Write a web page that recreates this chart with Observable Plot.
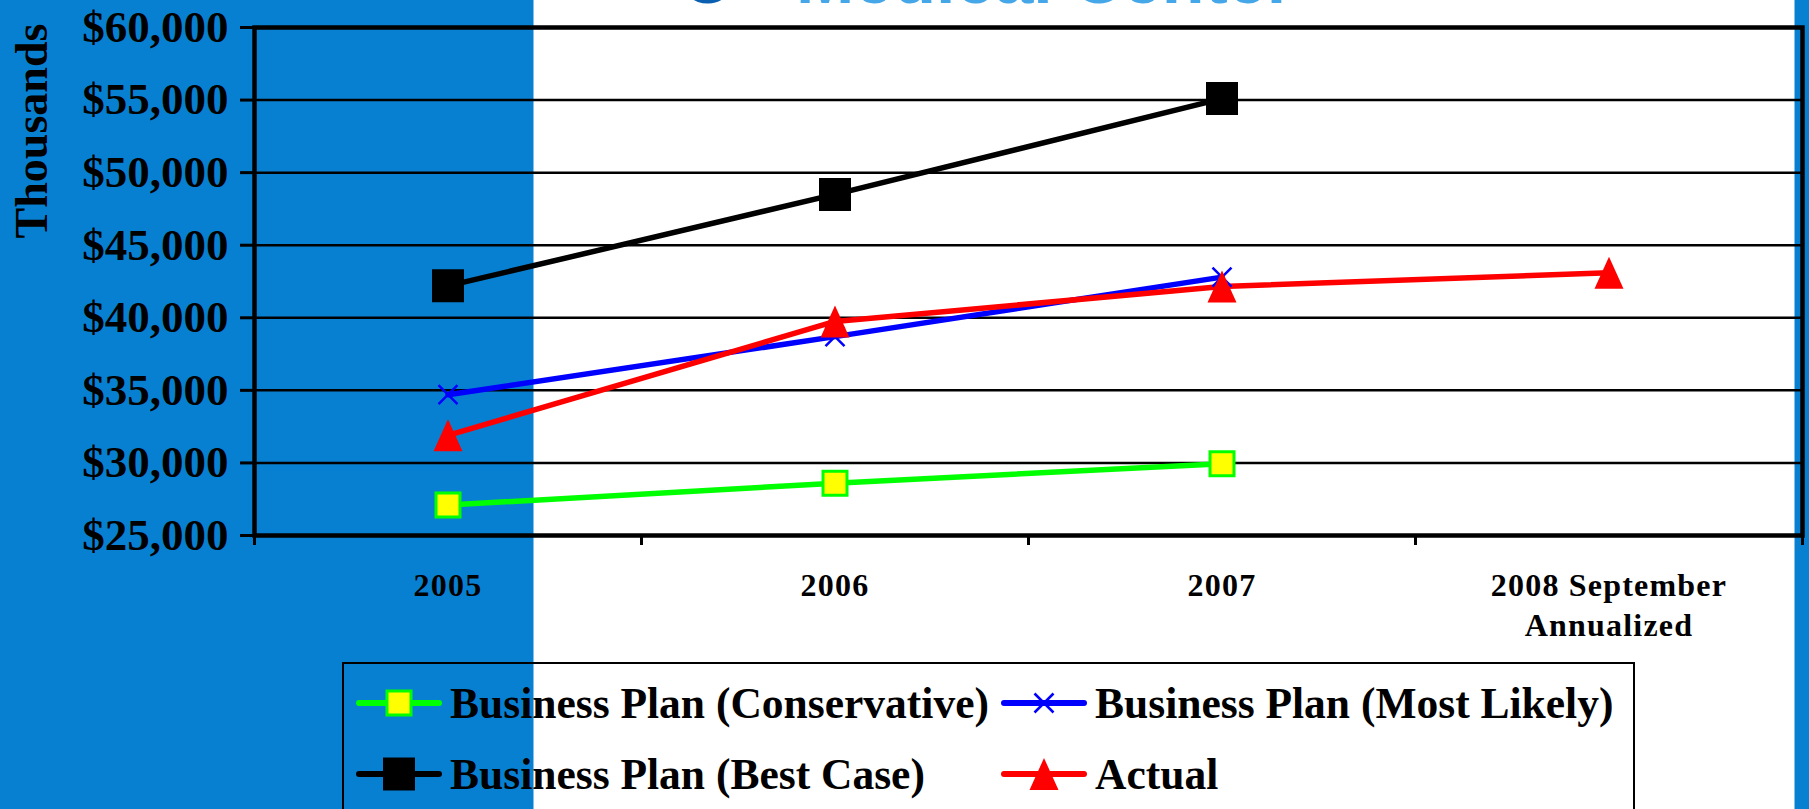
<!DOCTYPE html>
<html>
<head>
<meta charset="utf-8">
<script src="https://cdn.jsdelivr.net/npm/d3@7"></script>
<script src="https://cdn.jsdelivr.net/npm/@observablehq/plot@0.6"></script>
<style>
  html, body { margin: 0; padding: 0; }
  body {
    width: 1809px; height: 809px; overflow: hidden; position: relative;
    background: linear-gradient(to right, #0880d2 0px, #0880d2 533px, #ffffff 534px, #ffffff 1794px, #0880d2 1795px);
    font-family: "Liberation Serif", "Times New Roman", serif;
  }
  #chart { position: absolute; left: 0; top: 0; }
  #title1, #title2 { position: absolute; font-family: "Liberation Sans", Arial, sans-serif; font-weight: bold; font-size: 70px; line-height: 1; white-space: nowrap; }
  #title1 { left: 681px; top: -56px; color: #0a5fb0; }
  #title2 { left: 796px; top: -56px; color: #45a6e8; }
  #ylabel { position: absolute; left: 32px; top: 131px; transform: translate(-50%, -50%) rotate(-90deg); font-weight: bold; font-size: 46px; line-height: 1; white-space: nowrap; color: #000; }
  #legend { position: absolute; left: 342px; top: 662px; width: 1293px; height: 150px; border: 2.5px solid #000; box-sizing: border-box; }
  .item { position: absolute; height: 50px; display: flex; align-items: center; }
  .item span { font-weight: bold; font-size: 43.5px; color: #000; white-space: nowrap; margin-left: 8px; }
  .xcats text, .xcats tspan { letter-spacing: 1.2px; }
</style>
</head>
<body>
<div id="title1">C</div>
<div id="title2">Medical Center</div>
<div id="chart"></div>
<div id="ylabel">Thousands</div>
<div id="legend"></div>
<script>
// ---- data ----
const categories = ["2005", "2006", "2007", "2008 September\nAnnualized"];
const seriesNames = [
  "Business Plan (Conservative)",
  "Business Plan (Most Likely)",
  "Business Plan (Best Case)",
  "Actual"
];
const conservative = [27100, 28600, 29950, null];
const mostLikely   = [34700, 38700, 42800, null];
const bestCase     = [42200, 48500, 55100, null];
const actual       = [31900, 39750, 42150, 43100];
const yTicks = [25000, 30000, 35000, 40000, 45000, 50000, 55000, 60000];
const seriesColors = ["#00ff00", "#0000ff", "#000000", "#ff0000"];

// ---- marker symbols ----
const symSquareYellow = { draw(c) { c.rect(-12, -12, 24, 24); } };
const symSquareBlack  = { draw(c) { c.rect(-16, -16.5, 32, 33); } };
const symTimes = { draw(c) { c.moveTo(-9.5, -9.5); c.lineTo(9.5, 9.5); c.moveTo(9.5, -9.5); c.lineTo(-9.5, 9.5); } };
const symTriangle = { draw(c) { c.moveTo(0, -16); c.lineTo(14.5, 16); c.lineTo(-14.5, 16); c.closePath(); } };

const markerStyles = [
  { symbol: symSquareYellow, fill: "#ffff00", stroke: "#00ff00", strokeWidth: 3 },
  { symbol: symTimes, fill: "none", stroke: "#0000ff", strokeWidth: 2.5 },
  { symbol: symSquareBlack, fill: "#000000", stroke: "none", strokeWidth: 0 },
  { symbol: symTriangle, fill: "#ff0000", stroke: "none", strokeWidth: 0 }
];

const allValues = [conservative, mostLikely, bestCase, actual];
const rows = [];
allValues.forEach((vals, s) => {
  vals.forEach((v, i) => {
    if (v != null) rows.push({ series: seriesNames[s], s, idx: i + 0.5, value: v });
  });
});

const seriesMarks = [];
seriesNames.forEach((name, s) => {
  const d = rows.filter(r => r.s === s);
  seriesMarks.push(Plot.line(d, { x: "idx", y: "value", stroke: seriesColors[s], strokeWidth: 5.5 }));
});
seriesNames.forEach((name, s) => {
  const d = rows.filter(r => r.s === s);
  const m = markerStyles[s];
  seriesMarks.push(Plot.dot(d, { x: "idx", y: "value", symbol: m.symbol, fill: m.fill, stroke: m.stroke, strokeWidth: m.strokeWidth }));
});

const fmt = d3.format(",");
const xLabels = Plot.text(categories, { x: (d, i) => i + 0.5, text: d => d, frameAnchor: "bottom", dy: 32, lineAnchor: "top", lineHeight: 1.25, fontSize: 32, fontWeight: "bold", fill: "#000" });
const chart = Plot.plot({
  width: 1809,
  height: 650,
  marginLeft: 254,
  marginRight: 7,
  marginTop: 27,
  marginBottom: 115,
  style: { background: "transparent", fontFamily: "'Liberation Serif', 'Times New Roman', serif", color: "#000", overflow: "visible" },
  x: { type: "linear", domain: [0, categories.length] },
  y: { domain: [yTicks[0], yTicks[yTicks.length - 1]] },
  marks: [
    Plot.gridY(yTicks, { stroke: "#000", strokeOpacity: 1, strokeWidth: 2.5 }),
    Plot.axisY(yTicks, { tickSize: 14, tickPadding: 12, strokeWidth: 3, tickFormat: d => "$" + fmt(d), fontSize: 45, fontWeight: "bold", label: null }),
    Plot.axisX(d3.range(categories.length + 1), { tickSize: 10, strokeWidth: 3, tickFormat: () => "", label: null }),
    xLabels,
    Plot.frame({ stroke: "#000", strokeWidth: 4.5 }),
    ...seriesMarks
  ]
});
document.getElementById("chart").appendChild(chart);
// letter-spacing for category labels (text containing the category strings)
d3.select(chart).selectAll("text").filter(function () {
  const t = this.textContent;
  return categories.some(c => c.replace("\n", "") === t);
}).attr("class", "xcats").style("letter-spacing", "1.2px");

// ---- legend ----
const legend = document.getElementById("legend");
const legendPos = [
  { left: 12, top: 14 },
  { left: 657, top: 14 },
  { left: 12, top: 85 },
  { left: 657, top: 85 }
];
seriesNames.forEach((name, s) => {
  const m = markerStyles[s];
  const p = d3.path();
  m.symbol.draw(p);
  const item = document.createElement("div");
  item.className = "item";
  item.style.left = legendPos[s].left + "px";
  item.style.top = legendPos[s].top + "px";
  item.innerHTML =
    `<svg width="86" height="50" viewBox="0 0 86 50">
      <line x1="3" x2="83" y1="25" y2="25" stroke="${seriesColors[s]}" stroke-width="6" stroke-linecap="round"/>
      <path transform="translate(43,25)" d="${p.toString()}" fill="${m.fill}" stroke="${m.stroke}" stroke-width="${m.strokeWidth}"/>
    </svg><span>${name}</span>`;
  legend.appendChild(item);
});
</script>
</body>
</html>
